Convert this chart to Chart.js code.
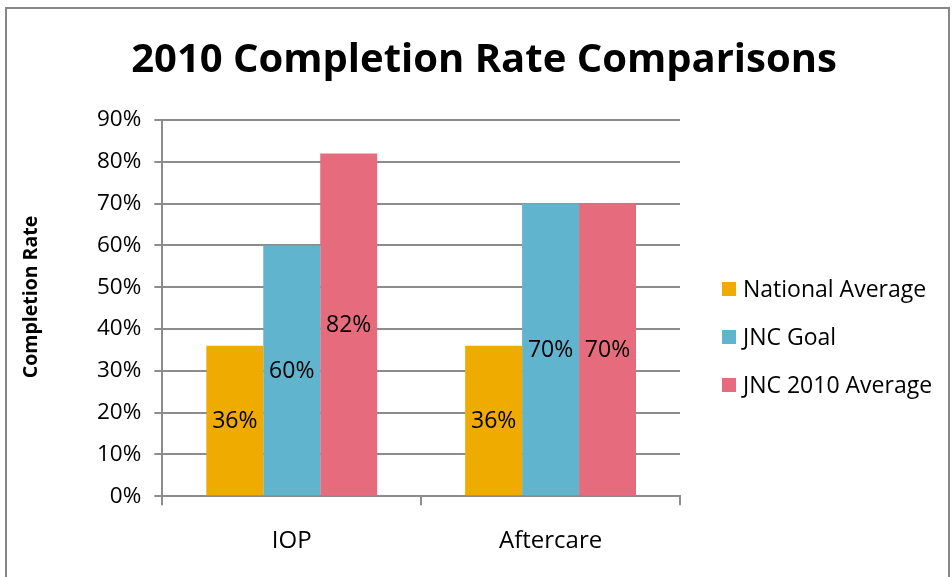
<!DOCTYPE html>
<html>
<head>
<meta charset="utf-8">
<script src="https://cdn.jsdelivr.net/npm/chart.js@4"></script>
<style>
  html, body { margin: 0; padding: 0; background: #fff; }
  #wrap { position: relative; width: 952px; height: 577px; overflow: hidden; }
  #frame { position: absolute; left: 5px; top: 7px; width: 941px; height: 620px; border: 2px solid #878787; pointer-events: none; }
</style>
</head>
<body>
<div id="wrap">
  <canvas id="rateChart" width="952" height="577"></canvas>
  <div id="frame"></div>
</div>
<script>
const categories = ["IOP", "Aftercare"];
const seriesNames = ["National Average", "JNC Goal", "JNC 2010 Average"];
const nationalAverage = [36, 36];
const jncGoal = [60, 70];
const jnc2010Average = [82, 70];
const seriesColors = ["#F0AB00", "#61B4CD", "#E66C7D"];
const chartTitle = "2010 Completion Rate Comparisons";
const yAxisTitle = "Completion Rate";

const FONT = "'Open Sans', sans-serif";

// value labels drawn at the middle of each bar
const barLabels = {
  id: "barLabels",
  afterDatasetsDraw(chart) {
    const ctx = chart.ctx;
    ctx.save();
    ctx.font = "23px " + FONT;
    ctx.fillStyle = "#000";
    ctx.textAlign = "center";
    ctx.textBaseline = "middle";
    chart.data.datasets.forEach((ds, i) => {
      chart.getDatasetMeta(i).data.forEach((bar, j) => {
        const mid = (bar.y + bar.base) / 2;
        ctx.fillText(ds.data[j] + "%", bar.x, mid + 1);
      });
    });
    ctx.restore();
  }
};

// title, axis title and legend: drawn by hand because the title is centred on the
// whole frame and the legend gap is wider than its row spacing
const decorations = {
  id: "decorations",
  afterDraw(chart) {
    const ctx = chart.ctx;
    const area = chart.chartArea;
    ctx.save();
    ctx.fillStyle = "#000";

    ctx.font = "bold 40px " + FONT;
    ctx.textAlign = "center";
    ctx.textBaseline = "middle";
    ctx.fillText(chartTitle, 484, 61);

    ctx.save();
    ctx.translate(31, area.top + 177);
    ctx.rotate(-Math.PI / 2);
    ctx.font = "bold 19.5px " + FONT;
    ctx.fillText(yAxisTitle, 0, 0);
    ctx.restore();

    const x = area.right + 42;
    const y0 = area.top + 169;
    ctx.font = "23px " + FONT;
    ctx.textAlign = "left";
    chart.data.datasets.forEach((ds, i) => {
      const y = y0 + i * 48;
      ctx.fillStyle = ds.backgroundColor;
      ctx.fillRect(x, y - 7, 14, 14);
      ctx.fillStyle = "#000";
      ctx.fillText(ds.label, x + 21, y + 1);
    });
    ctx.restore();
  }
};

const ctx = document.getElementById("rateChart").getContext("2d");
new Chart(ctx, {
  type: "bar",
  data: {
    labels: categories,
    datasets: [
      { label: seriesNames[0], data: nationalAverage, backgroundColor: seriesColors[0] },
      { label: seriesNames[1], data: jncGoal, backgroundColor: seriesColors[1] },
      { label: seriesNames[2], data: jnc2010Average, backgroundColor: seriesColors[2] }
    ]
  },
  options: {
    responsive: false,
    animation: false,
    categoryPercentage: 0.66,
    barPercentage: 1.0,
    layout: { padding: { top: 120, left: 84, right: 272, bottom: 0 } },
    plugins: {
      title: { display: false },
      legend: { display: false },
      tooltip: { enabled: false }
    },
    scales: {
      x: {
        offset: true,
        grid: { offset: true, drawOnChartArea: false, color: "#8C8C8C", lineWidth: 2, tickLength: 9 },
        border: { color: "#8C8C8C", width: 2 },
        ticks: { color: "#000", font: { family: FONT, size: 24 }, padding: 21.5 }
      },
      y: {
        min: 0,
        max: 90,
        ticks: {
          stepSize: 10,
          color: "#000",
          font: { family: FONT, size: 22.5 },
          padding: 13,
          callback: v => v + "%"
        },
        grid: { color: "#8C8C8C", lineWidth: 2, tickLength: 8 },
        border: { color: "#8C8C8C", width: 2 }
      }
    }
  },
  plugins: [barLabels, decorations]
});
</script>
</body>
</html>
